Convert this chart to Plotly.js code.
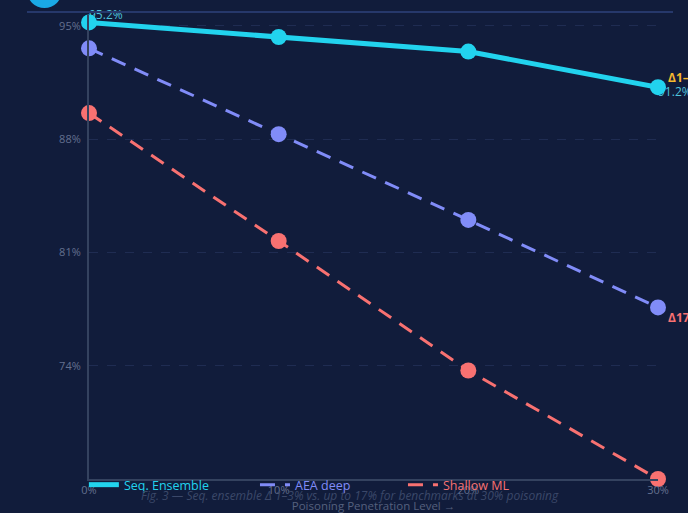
<!DOCTYPE html>
<html>
<head>
<meta charset="utf-8">
<script src="https://cdn.plot.ly/plotly-3.0.1.min.js"></script>
<style>html,body{margin:0;padding:0;background:#111c3b;}#chart{width:688px;height:513px;}</style>
</head>
<body>
<div id="chart"></div>
<script>
// ---- data ----
const levels = [0, 10, 20, 30];
const levelLabels = ['0%', '10%', '20%', '30%'];
const seqEnsemble = [95.2, 94.3, 93.4, 91.2];
const aeaDeep = [93.6, 88.3, 83.0, 77.6];
const shallowML = [89.6, 81.7, 73.7, 67.0];
const yTicks = [74, 81, 88, 95];
const yTickLabels = ['74%', '81%', '88%', '95%'];
const seriesNames = ['Seq. Ensemble', 'AEA deep', 'Shallow ML'];
const deltaLabels = ['Δ1–3%', 'Δ17%'];
const caption = 'Fig. 3 — Seq. ensemble Δ 1–3% vs. up to 17% for benchmarks at 30% poisoning';
const xTitle = 'Poisoning Penetration Level →';

const cyan = '#22d3ee', violet = '#818cf8', coral = '#f87171';
const font = 'Open Sans, Noto Sans, sans-serif';
const last = levels.length - 1;

// value labels drawn first so markers sit on top of them
const labelTrace = {
  x: [levels[0], levels[last]],
  y: [seqEnsemble[0], seqEnsemble[last]],
  text: [seqEnsemble[0].toFixed(1) + '%', seqEnsemble[last].toFixed(1) + '%'],
  mode: 'text',
  textposition: ['top right', 'bottom right'],
  textfont: {family: font, size: 12, color: '#4fc3dc'},
  cliponaxis: false, showlegend: false, hoverinfo: 'skip'
};

const styles = [
  {color: cyan, width: 5, dash: 'solid'},
  {color: violet, width: 3, dash: '15px,10px'},
  {color: coral, width: 3, dash: '15px,10px'}
];
const seriesValues = [seqEnsemble, aeaDeep, shallowML];
const legendIds = ['legend', 'legend2', 'legend3'];

const traces = [labelTrace];
// data traces (drawn back to front: shallow, aea, seq)
for (let i = 2; i >= 0; i--) {
  traces.push({x: levels, y: seriesValues[i], name: seriesNames[i], mode: 'lines+markers',
    showlegend: false, line: styles[i], marker: {color: styles[i].color, size: 16}, cliponaxis: false});
}
// legend entries (line-only symbols)
for (let i = 0; i < 3; i++) {
  traces.push({x: [null], y: [null], name: seriesNames[i], mode: 'lines', legend: legendIds[i],
    line: styles[i], showlegend: true});
}

const legendBase = {orientation: 'h', yanchor: 'middle', y: -0.013, bgcolor: 'rgba(0,0,0,0)'};

const layout = {
  width: 688, height: 513,
  margin: {l: 89, r: 30, t: 15, b: 34},
  paper_bgcolor: '#111c3b', plot_bgcolor: '#111c3b',
  font: {family: font, color: '#64708f'},
  xaxis: {
    range: [levels[0], levels[last]], tickvals: levels, ticktext: levelLabels,
    showgrid: false, zeroline: false, showline: true, linecolor: '#34425f', linewidth: 2,
    tickfont: {size: 11, color: '#64708f'}, ticks: '',
    title: {text: xTitle, font: {size: 11.5, color: '#55607e'}, standoff: 6}
  },
  yaxis: {
    range: [67, 95.66], tickvals: yTicks, ticktext: yTickLabels,
    showgrid: true, gridcolor: '#1f2c52', griddash: 'dash', gridwidth: 1,
    zeroline: false, showline: true, linecolor: '#34425f', linewidth: 2,
    tickfont: {size: 11, color: '#64708f'}, ticks: '', ticklabelstandoff: 4
  },
  legend: Object.assign({}, legendBase, {x: -0.009, font: {family: font, size: 12.5, color: cyan}}),
  legend2: Object.assign({}, legendBase, {x: 0.2917, font: {family: font, size: 12.5, color: violet}}),
  legend3: Object.assign({}, legendBase, {x: 0.5518, font: {family: font, size: 12.5, color: coral}}),
  shapes: [
    {type: 'circle', xref: 'paper', yref: 'paper', x0: -0.109, x1: -0.0475, y0: 1.015, y1: 1.0905,
     fillcolor: '#1aa9e6', line: {width: 0}},
    {type: 'line', xref: 'paper', yref: 'paper', x0: -0.109, x1: 1.0264, y0: 1.0065, y1: 1.0065,
     line: {color: '#26386b', width: 2}}
  ],
  annotations: [
    {x: levels[last], y: seqEnsemble[last], xref: 'x', yref: 'y', text: '<b>' + deltaLabels[0] + '</b>',
     showarrow: false, xanchor: 'left', yanchor: 'middle', xshift: 8, yshift: 10,
     font: {family: font, size: 12, color: '#f5b82e'}},
    {x: levels[last], y: aeaDeep[last], xref: 'x', yref: 'y', text: '<b>' + deltaLabels[1] + '</b>',
     showarrow: false, xanchor: 'left', yanchor: 'middle', xshift: 8, yshift: -10,
     font: {family: font, size: 12, color: coral}},
    {x: 0.4587, y: -0.035, xref: 'paper', yref: 'paper', text: '<i>' + caption + '</i>',
     showarrow: false, xanchor: 'center', yanchor: 'middle',
     font: {family: font, size: 12, color: '#3b4869'}}
  ],
  showlegend: true
};

Plotly.newPlot('chart', traces, layout, {displayModeBar: false, staticPlot: true});
</script>
</body>
</html>
